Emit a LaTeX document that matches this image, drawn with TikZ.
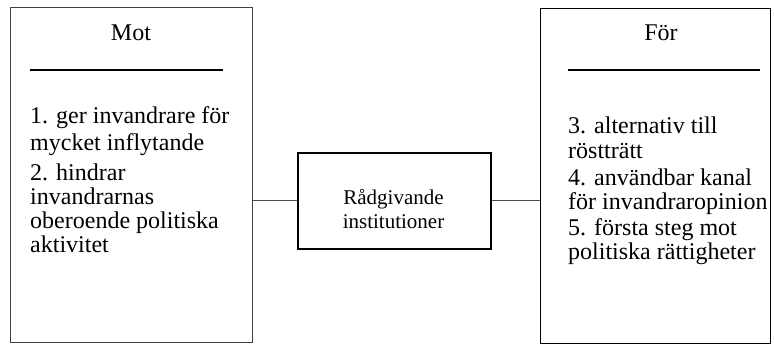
\documentclass[tikz,border=0pt]{standalone}
\usepackage{fontspec}
\setmainfont{Liberation Serif}
\begin{document}
\begin{tikzpicture}[x=1pt,y=-1pt,
  box/.style={draw=black,line width=1.3pt},
  link/.style={draw=black!70,line width=1.2pt},
  txt/.style={anchor=base west,inner sep=0pt,font=\fontsize{24}{26}\selectfont},
  head/.style={anchor=base,inner sep=0pt,font=\fontsize{24}{26}\selectfont},
  mid/.style={align=center,inner sep=0pt,font=\fontsize{21}{24}\selectfont}]
\useasboundingbox (0,0) rectangle (774,345);
% boxes
\node[box,draw=black!75,minimum width=242pt,minimum height=335pt,anchor=north west] (mot) at (10,7) {};
\node[box,minimum width=230pt,minimum height=335pt,anchor=north west] (for) at (540,8) {};
\node[box,minimum width=193pt,minimum height=96pt,anchor=north west,line width=1.6pt] (mid) at (297,152) {};
\node[mid] (midtext) at (393.5,209) {Rådgivande\\institutioner};
% connectors
\coordinate (lc) at (mot.east |- mid.west);
\coordinate (rc) at (for.west |- mid.east);
\draw[link] (lc) -- (mid.west);
\draw[link] (mid.east) -- (rc);
% headings and rules
\node[head] (motH) at (131,41) {Mot};
\node[head] (forH) at (661,41) {För};
\coordinate (r1a) at (30,70); \coordinate (r1b) at (223,70);
\coordinate (r2a) at (568,70); \coordinate (r2b) at (760,70);
\draw[line width=1.1pt] (r1a) -- (r1b);
\draw[line width=1.1pt] (r2a) -- (r2b);
% left items
\node[txt] (m1) at (30,124) {1. ger invandrare för};
\node[txt] (m2) at (30,150) {mycket inflytande};
\node[txt] (m3) at (30,180) {2. hindrar};
\node[txt] (m4) at (30,204) {invandrarnas};
\node[txt] (m5) at (30,228) {oberoende politiska};
\node[txt] (m6) at (30,252) {aktivitet};
% right items
\node[txt] (f1) at (568,133) {3. alternativ till};
\node[txt] (f2) at (568,158) {röstträtt};
\node[txt] (f3) at (568,185) {4. användbar kanal};
\node[txt] (f4) at (568,209) {för invandraropinion};
\node[txt] (f5) at (568,235) {5. första steg mot};
\node[txt] (f6) at (568,259) {politiska rättigheter};
\end{tikzpicture}
\end{document}
